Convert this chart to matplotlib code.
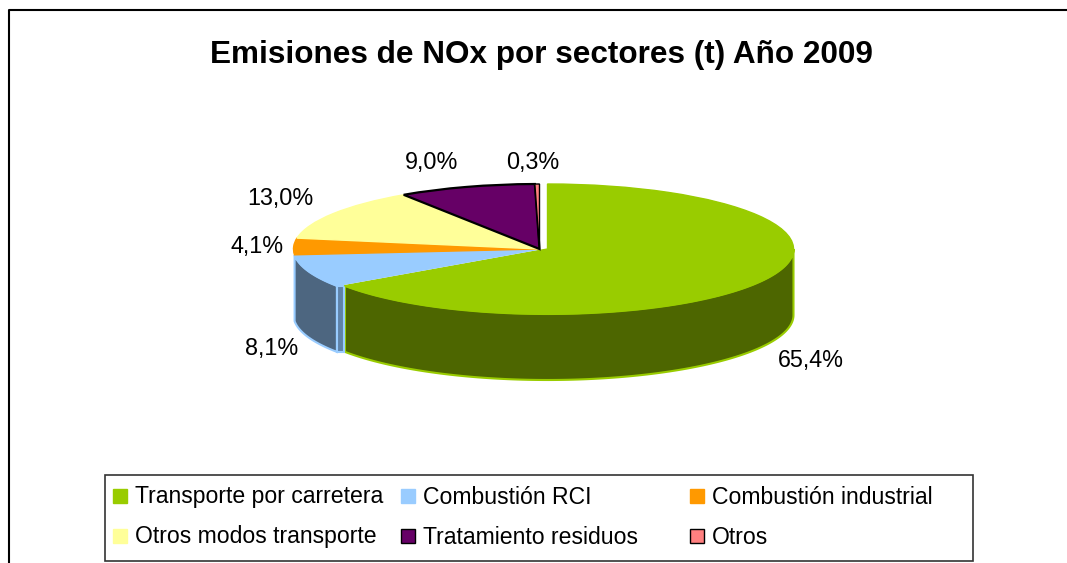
import numpy as np
import matplotlib
matplotlib.use('Agg')
from matplotlib import pyplot as plt
from matplotlib.patches import Rectangle

plt.rcParams['font.family'] = ['Liberation Sans', 'DejaVu Sans']

sectores = ['Transporte por carretera', 'Combustión RCI', 'Combustión industrial',
            'Otros modos transporte', 'Tratamiento residuos', 'Otros']
valores = [65.4, 8.1, 4.1, 13.0, 9.0, 0.3]
etiquetas = ['65,4%', '8,1%', '4,1%', '13,0%', '9,0%', '0,3%']
colores = ['#99CC00', '#99CCFF', '#FF9900', '#FFFF99', '#660066', '#FF8080']
bordes = ['#99CC00', '#99CCFF', '#FF9900', '#FFFF99', '#000000', '#000000']
paredes = ['#4D6600', '#4D6680']

W, H = 1067, 563
fig = plt.figure(figsize=(W / 100, H / 100), dpi=100)

# fondo en pixeles
bg = fig.add_axes([0, 0, 1, 1])
bg.set_xlim(0, W)
bg.set_ylim(H, 0)
bg.axis('off')
bg.plot([8.5, 8.5, 1067], [563, 9.5, 9.5], color='black', lw=1.5)
bg.text(541.5, 54.5, 'Emisiones de NOx por sectores (t) Año 2009', fontsize=22.65,
        fontweight='bold', ha='center', va='center')

# tarta: 1 unidad = 246 px en x, 65 px en y
cx, cy, rx, ry = 543.5, 249, 246, 65
ax_w, ax_h = 1.3 * rx, 3 * ry
ax = fig.add_axes([(cx - ax_w) / W, 1 - (cy + ax_h) / H, 2 * ax_w / W, 2 * ax_h / H])
wedges, _ = ax.pie(valores, colors=colores, startangle=90, counterclock=False, radius=1,
                   wedgeprops={'linewidth': 1})
ax.set_aspect('auto')
ax.set_xlim(-1.3, 1.3)
ax.set_ylim(-3, 3)
ax.patch.set_alpha(0)
dx = 4 / rx
for i, w in enumerate(wedges):
    w.set_center((dx if i == 0 else -dx, 0))
    w.set_edgecolor(bordes[i])
    w.set_zorder(5)
wedges[4].set_linewidth(1.6)

# pared lateral a partir de los valores
alto = 66 / ry
acum = np.cumsum([0] + valores) / 100 * 2 * np.pi
for i in range(2):
    t = np.linspace(acum[i], acum[i + 1], 200)
    t = t[(np.cos(t) < 0.02)]
    c = dx if i == 0 else -dx
    x = c + np.sin(t)
    y = np.cos(t)
    ax.fill(np.r_[x, x[::-1]], np.r_[y, y[::-1] - alto], facecolor=paredes[i],
            edgecolor=colores[i], lw=1.5, zorder=3)
# cara del corte del sector azul
t = acum[1]
xc = -dx + np.sin(t)
yc = np.cos(t)
ax.fill([xc, xc + 0.03, xc + 0.03, xc], [yc, yc, yc - alto, yc - alto], facecolor='#5F82A8',
        edgecolor=colores[1], lw=1.5, zorder=4)

# etiquetas
pos_etq = [(811, 360), (272, 348), (257, 247), (280, 199), (432, 163), (533, 162)]
for txt, (px, py) in zip(etiquetas, pos_etq):
    bg.text(px, py, txt, fontsize=16.8, ha='center', va='center', zorder=10)

# leyenda
bg.add_patch(Rectangle((105, 475), 868, 86, facecolor='white', edgecolor='#333333', lw=1.2))
col_x = [113, 401, 690]
fila_y = [496, 536]
for i, nombre in enumerate(sectores):
    px = col_x[i % 3]
    py = fila_y[i // 3]
    bg.add_patch(Rectangle((px, py - 7), 14, 14, facecolor=colores[i],
                           edgecolor=bordes[i] if i > 3 else colores[i], lw=1))
    bg.text(px + 22, py + 1, nombre, fontsize=16.6, ha='left', va='center')

fig.savefig('out.png', dpi=100)
